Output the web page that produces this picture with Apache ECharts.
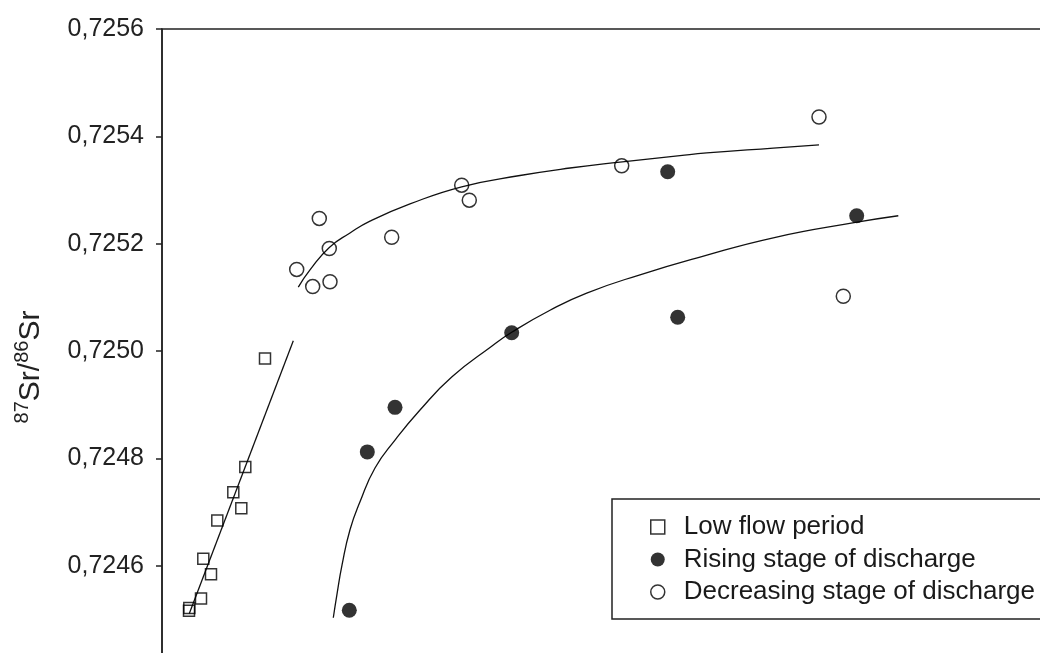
<!DOCTYPE html>
<html><head><meta charset="utf-8">
<script src="https://cdn.jsdelivr.net/npm/echarts@6/dist/echarts.min.js"></script>
<style>html,body{margin:0;padding:0;background:#fff}#c{width:1040px;height:653px}</style>
</head><body><div id="c"></div>
<script>
// Series names (legend)
const seriesNames = ['Low flow period', 'Rising stage of discharge', 'Decreasing stage of discharge'];

// Y axis ticks
const yMin = 0.7244, yMax = 0.7256, yStep = 0.0002;

// Low flow period (open squares) - x in arbitrary units
const lowFlowX = [10.3, 8.33, 7.13, 7.93, 5.53, 4.13, 4.9, 3.9, 2.73, 2.7];
const lowFlowY = [0.724986, 0.724784, 0.724737, 0.724707, 0.724684, 0.724613, 0.724584, 0.724539, 0.724521, 0.724516];

// Rising stage of discharge (filled circles)
const risingX = [18.73, 20.53, 23.3, 34.97, 50.57, 51.57, 69.47];
const risingY = [0.724517, 0.724812, 0.724895, 0.725034, 0.725334, 0.725063, 0.725252];

// Decreasing stage of discharge (open circles)
const decreasingX = [15.73, 16.73, 13.47, 15.07, 16.8, 22.97, 29.97, 30.73, 45.97, 65.7, 68.13];
const decreasingY = [0.725247, 0.725191, 0.725152, 0.725120, 0.725129, 0.725212, 0.725309, 0.725281, 0.725345, 0.725436, 0.725102];

// Trend lines
const lowFitX = [2.73, 13.13];
const lowFitY = [0.724511, 0.725019];
const risingFitX = [17.13, 17.5, 18.0, 18.8, 19.8, 21.3, 23.3, 25.8, 29.0, 32.97, 34.97, 38.8, 42.47, 47.8, 53.8, 61.13, 69.5, 73.63];
const risingFitY = [0.724503, 0.724547, 0.724601, 0.724667, 0.724719, 0.724782, 0.724834, 0.724890, 0.724952, 0.725009, 0.725035, 0.725076, 0.725108, 0.725142, 0.725175, 0.725211, 0.725240, 0.725252];
const decFitX = [13.63, 14.8, 16.73, 18.8, 20.8, 24.8, 29.97, 35.8, 40.8, 45.8, 51.8, 54.47, 61.13, 65.7];
const decFitY = [0.725119, 0.725151, 0.725193, 0.725220, 0.725242, 0.725274, 0.725306, 0.725327, 0.725341, 0.725352, 0.725364, 0.725369, 0.725378, 0.725384];

const zip = (xs, ys) => xs.map((x, i) => [x, ys[i]]);
const hollow = { color: 'rgba(0,0,0,0)', borderColor: '#000', borderWidth: 1.5 };
const solid = { color: '#000', borderColor: '#000', borderWidth: 0 };
const fitLine = (data) => ({
  type: 'line', data, showSymbol: false, symbol: 'none', smooth: 0.5, silent: true,
  lineStyle: { color: '#111', width: 1.3 }, z: 2, animation: false
});
const FONT = 'Liberation Sans';

const chart = echarts.init(document.getElementById('c'), null, { renderer: 'canvas' });
chart.setOption({
  animation: false,
  backgroundColor: '#fff',
  grid: {
    left: 162, top: 29, width: 1000, height: 644,
    containLabel: false, outerBoundsMode: 'none',
    show: true, borderColor: '#222', borderWidth: 1.5, backgroundColor: 'transparent'
  },
  xAxis: { type: 'value', min: 0, max: 100, show: false },
  yAxis: {
    type: 'value', min: yMin, max: yMax, interval: yStep,
    axisLine: { show: true, lineStyle: { color: '#222', width: 1.5 } },
    axisTick: { show: true, inside: false, length: 6, lineStyle: { color: '#222', width: 1.5 } },
    axisLabel: {
      margin: 18, fontFamily: FONT, fontSize: 25, color: '#222',
      formatter: v => v.toFixed(4).replace('.', ',')
    },
    splitLine: { show: false }
  },
  legend: {
    orient: 'vertical', left: 612, top: 499,
    padding: [15, 40, 14, 38],
    itemWidth: 42, itemHeight: 14, itemGap: 6.5,
    backgroundColor: '#fff', borderColor: '#222', borderWidth: 1.5, borderRadius: 0,
    textStyle: { fontFamily: FONT, fontSize: 26, color: '#1a1a1a', lineHeight: 26 },
    selectedMode: false,
    data: [
      { name: seriesNames[0], icon: 'path://M0,0H10V10H0Z', itemStyle: hollow },
      { name: seriesNames[1], icon: 'circle', itemStyle: solid },
      { name: seriesNames[2], icon: 'circle', itemStyle: hollow }
    ]
  },
  graphic: [{
    type: 'text', x: 29, y: 367, rotation: Math.PI / 2,
    style: {
      text: '{sup|87}{m|Sr}{m|/}{sup|86}{m|Sr}',
      align: 'center', verticalAlign: 'middle', fill: '#222',
      rich: {
        sup: { fontFamily: FONT, fontSize: 20, lineHeight: 20, verticalAlign: 'top', fill: '#222' },
        m: { fontFamily: FONT, fontSize: 30, lineHeight: 34, verticalAlign: 'bottom', fill: '#222' }
      }
    }
  }],
  series: [
    fitLine(zip(lowFitX, lowFitY)),
    fitLine(zip(risingFitX, risingFitY)),
    fitLine(zip(decFitX, decFitY)),
    { type: 'scatter', name: seriesNames[0], data: zip(lowFlowX, lowFlowY), symbol: 'rect', symbolSize: 11, itemStyle: hollow, z: 3, silent: true },
    { type: 'scatter', name: seriesNames[1], data: zip(risingX, risingY), symbol: 'circle', symbolSize: 15, itemStyle: solid, z: 3, silent: true },
    { type: 'scatter', name: seriesNames[2], data: zip(decreasingX, decreasingY), symbol: 'circle', symbolSize: 14, itemStyle: hollow, z: 3, silent: true }
  ]
});
</script></body></html>
